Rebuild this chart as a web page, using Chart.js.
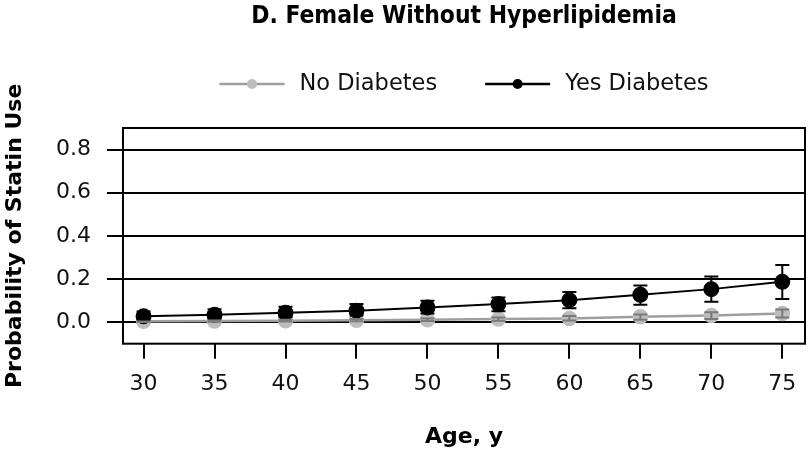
<html>
<head>
<script src="https://cdn.jsdelivr.net/npm/chart.js@4.4.1/dist/chart.umd.min.js"></script>
<style>
  body { margin: 0; padding: 0; background: #fff; }
  .chartBox { width: 810px; height: 454px; }
</style>
</head>
<body>
<div class="chartBox"><canvas id="myChart"></canvas></div>
<script>
// values
const ages = [30, 35, 40, 45, 50, 55, 60, 65, 70, 75];
const noDiabetes      = [0.004, 0.005, 0.006, 0.009, 0.011, 0.014, 0.017, 0.025, 0.031, 0.040];
const noDiabetesLow   = [0.001, 0.002, 0.003, 0.004, 0.005, 0.006, 0.008, 0.011, 0.015, 0.021];
const noDiabetesHigh  = [0.008, 0.009, 0.011, 0.014, 0.017, 0.021, 0.028, 0.035, 0.046, 0.059];
const yesDiabetes     = [0.027, 0.034, 0.043, 0.053, 0.068, 0.084, 0.102, 0.127, 0.153, 0.187];
const yesDiabetesLow  = [0.012, 0.018, 0.024, 0.031, 0.040, 0.050, 0.064, 0.080, 0.094, 0.107];
const yesDiabetesHigh = [0.049, 0.060, 0.071, 0.084, 0.099, 0.114, 0.140, 0.170, 0.212, 0.265];
const yTicks = [0, 0.2, 0.4, 0.6, 0.8];
const chartTitle = 'D. Female Without Hyperlipidemia';

const FONT = "'DejaVu Sans', sans-serif";
const TITLE_FONT = "'DejaVu Sans Condensed', 'DejaVu Sans', sans-serif";

function toPoints(vals) {
    return ages.map((a, i) => ({ x: a, y: vals[i] }));
}

// error bars + box round the plot
const errorBars = {
    id: 'errorBars',
    afterDatasetsDraw(chart) {
        const ctx = chart.ctx;
        const xs = chart.scales.x, ys = chart.scales.y;
        chart.data.datasets.forEach(ds => {
            ctx.save();
            ctx.strokeStyle = ds.barColor;
            ctx.lineWidth = 2;
            ds.low.forEach((lo, i) => {
                const x = xs.getPixelForValue(ages[i]);
                const y1 = ys.getPixelForValue(lo);
                const y2 = ys.getPixelForValue(ds.high[i]);
                ctx.beginPath();
                ctx.moveTo(x, y1); ctx.lineTo(x, y2);
                ctx.moveTo(x - 7, y1); ctx.lineTo(x + 7, y1);
                ctx.moveTo(x - 7, y2); ctx.lineTo(x + 7, y2);
                ctx.stroke();
            });
            ctx.restore();
        });
        const a = chart.chartArea;
        ctx.save();
        ctx.strokeStyle = '#000';
        ctx.lineWidth = 2;
        ctx.strokeRect(a.left, a.top, a.right - a.left, a.bottom - a.top);
        ctx.restore();
    }
};

// title centred over the plot, then legend: line with a dot, then text
const lineLegend = {
    id: 'lineLegend',
    afterDraw(chart) {
        const ctx = chart.ctx;
        const a = chart.chartArea;
        const mid = (a.left + a.right) / 2;
        ctx.save();
        ctx.fillStyle = '#000';
        ctx.textAlign = 'center';
        ctx.textBaseline = 'middle';
        ctx.font = 'bold 24.4px ' + TITLE_FONT;
        ctx.fillText(chartTitle, mid, 17);

        const items = [chart.data.datasets[0], chart.data.datasets[1]];
        ctx.font = '22.5px ' + FONT;
        const lineLen = 65, gap = 15, itemGap = 48;
        let total = 0;
        items.forEach((ds, i) => {
            total += lineLen + gap + ctx.measureText(ds.label).width + (i ? 0 : itemGap);
        });
        let x = mid - total / 2;
        const y = 84;
        items.forEach(ds => {
            ctx.strokeStyle = ds.borderColor;
            ctx.lineWidth = 2.5;
            ctx.beginPath();
            ctx.moveTo(x, y); ctx.lineTo(x + lineLen, y);
            ctx.stroke();
            ctx.fillStyle = ds.pointBackgroundColor;
            ctx.beginPath();
            ctx.arc(x + lineLen / 2, y, 5, 0, Math.PI * 2);
            ctx.fill();
            ctx.fillStyle = '#111';
            ctx.textAlign = 'left';
            ctx.fillText(ds.label, x + lineLen + gap, y);
            x += lineLen + gap + ctx.measureText(ds.label).width + itemGap;
        });
        ctx.restore();
    }
};

const ctx = document.getElementById('myChart').getContext('2d');
const myChart = new Chart(ctx, {
    type: 'line',
    data: {
        datasets: [{
            label: 'No Diabetes',
            data: toPoints(noDiabetes),
            low: noDiabetesLow,
            high: noDiabetesHigh,
            borderColor: '#9e9e9e',
            borderWidth: 2.5,
            pointBackgroundColor: '#bdbdbd',
            pointBorderColor: '#bdbdbd',
            pointRadius: 6.5,
            barColor: '#7a7a7a',
            order: 1
        }, {
            label: 'Yes Diabetes',
            data: toPoints(yesDiabetes),
            low: yesDiabetesLow,
            high: yesDiabetesHigh,
            borderColor: '#000',
            borderWidth: 2,
            pointBackgroundColor: '#000',
            pointBorderColor: '#000',
            pointRadius: 7,
            barColor: '#000',
            order: 0
        }]
    },
    options: {
        responsive: true,
        maintainAspectRatio: false,
        animation: false,
        layout: { autoPadding: false, padding: { left: 0, right: 5, top: 128, bottom: 0 } },
        plugins: {
            legend: { display: false },
            tooltip: { enabled: false },
            title: { display: false }
        },
        scales: {
            x: {
                type: 'linear',
                min: 28.55,
                max: 76.6,
                afterBuildTicks: s => { s.ticks = ages.map(v => ({ value: v })); },
                afterFit: s => { s.paddingLeft = 0; s.paddingRight = 0; },
                grid: { drawOnChartArea: false, drawTicks: true, tickLength: 15, color: '#000', lineWidth: 2 },
                border: { display: false },
                ticks: { color: '#111', padding: 12, maxRotation: 0, font: { family: FONT, size: 22 } },
                title: {
                    display: true, text: 'Age, y', color: '#000',
                    font: { family: FONT, size: 22, weight: 'bold' },
                    padding: { top: 14.5, bottom: 4 }
                }
            },
            y: {
                min: -0.1,
                max: 0.9,
                afterBuildTicks: s => { s.ticks = yTicks.map(v => ({ value: v })); },
                grid: { drawTicks: true, tickLength: 16, color: '#000', lineWidth: 2 },
                border: { display: false },
                ticks: { color: '#111', padding: 16, font: { family: FONT, size: 22 },
                         callback: v => v.toFixed(1) },
                title: {
                    display: true, text: 'Probability of Statin Use', color: '#000',
                    font: { family: FONT, size: 22, weight: 'bold' },
                    padding: { top: 1.8, bottom: 11.8 }
                }
            }
        }
    },
    plugins: [errorBars, lineLegend]
});
</script>
</body>
</html>
